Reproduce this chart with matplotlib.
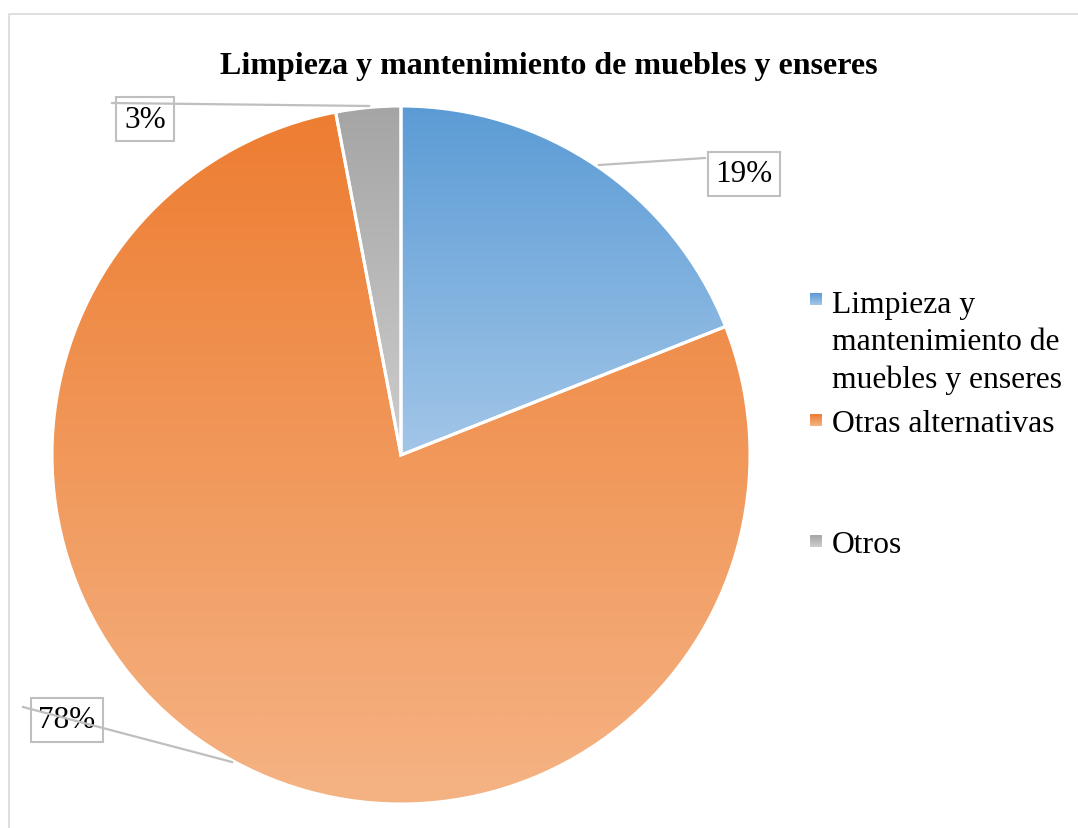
import numpy as np
import matplotlib
matplotlib.use("Agg")
import matplotlib.pyplot as plt
from matplotlib.colors import LinearSegmentedColormap

# ---- data ----
title = "Limpieza y mantenimiento de muebles y enseres"
categories = ["Limpieza y\nmantenimiento de\nmuebles y enseres", "Otras alternativas", "Otros"]
values = [19, 78, 3]
pct_labels = ["19%", "78%", "3%"]
top_colors = ["#5B9BD5", "#ED7D31", "#A5A5A5"]
bottom_colors = ["#A2C6E8", "#F5B384", "#CDCDCD"]

W, H = 1078, 829
plt.rcParams['font.family'] = ['Liberation Serif', 'DejaVu Serif']

fig = plt.figure(figsize=(W / 100, H / 100), dpi=100)
ax = fig.add_axes([0, 0, 1, 1])

def Y(py):
    return H - py

cx, cy, R = 401, Y(456), 349
wedges, _ = ax.pie(values, startangle=90, counterclock=False, center=(cx, cy), radius=R,
                   wedgeprops=dict(edgecolor="white", linewidth=2.2, facecolor="none"))
ax.set_xlim(0, W)
ax.set_ylim(0, H)
ax.set_aspect('auto')
ax.axis('off')

for w, c0, c1 in zip(wedges, top_colors, bottom_colors):
    ext = w.get_path().get_extents()
    cmap = LinearSegmentedColormap.from_list("g", [c1, c0])
    grad = np.linspace(0, 1, 256).reshape(-1, 1)
    im = ax.imshow(grad, cmap=cmap, origin='lower', aspect='auto',
                   extent=[ext.x0, ext.x1, ext.y0, ext.y1], zorder=1, interpolation='bilinear')
    im.set_clip_path(w)
    w.set_zorder(2)
ax.set_xlim(0, W)
ax.set_ylim(0, H)

# outer frame
ax.plot([9, 9, W + 5], [Y(H + 5), Y(15), Y(15)], color="#D9D9D9", lw=1.2, zorder=0)

# title
ax.text(549, Y(74), title, ha='center', va='baseline', fontsize=23, fontweight='bold', color='black')

# data labels with leader lines
lead = {
    "19%": ((599, 166), (705, 159), (744, 175)),
    "78%": ((232, 763), (23, 708), (67, 721)),
    "3%": ((369, 107), (112, 104), (145, 120)),
}
for lab in pct_labels:
    (x0, y0), (x1, y1), (tx, ty) = lead[lab]
    ax.plot([x0, x1], [Y(y0), Y(y1)], color="#BFBFBF", lw=1.6, zorder=5)
    ax.text(tx, Y(ty), lab, ha='center', va='center', fontsize=22.5, color='black', zorder=4,
            bbox=dict(boxstyle='square,pad=0.25', facecolor='none', edgecolor='#BFBFBF', lw=1.5))

# legend (baseline of last line of each entry)
leg_base = [388, 432, 553]
mark_y = [300, 421, 542]
for cat, c0, c1, lb, my in zip(categories, top_colors, bottom_colors, leg_base, mark_y):
    ax.text(832, Y(lb), cat, ha='left', va='baseline', fontsize=22.8, color='black',
            linespacing=1.36)
    cmap = LinearSegmentedColormap.from_list("g", [c1, c0])
    ax.imshow(np.linspace(0, 1, 32).reshape(-1, 1), cmap=cmap, origin='lower', aspect='auto',
              extent=[810, 822, Y(my + 6), Y(my - 6)], zorder=3)
ax.set_xlim(0, W)
ax.set_ylim(0, H)

fig.savefig("out.png", dpi=100)
